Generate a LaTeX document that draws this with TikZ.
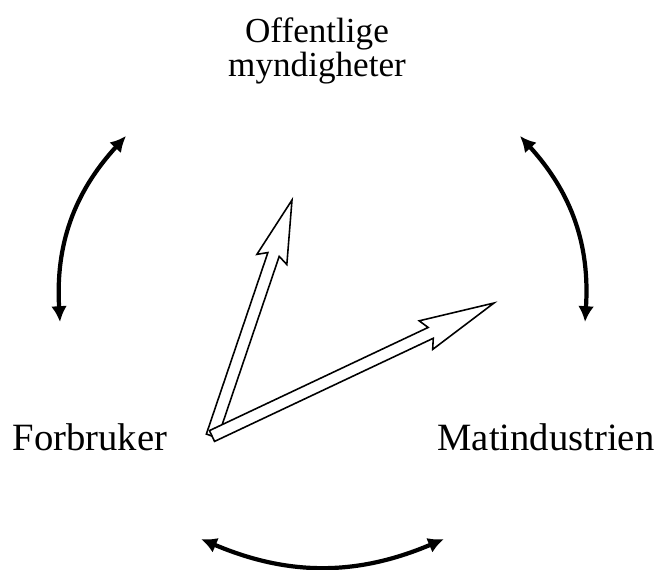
\documentclass[tikz,border=0pt]{standalone}
\usepackage{fontspec}
\setmainfont{Liberation Serif}
\usetikzlibrary{arrows.meta,calc}

\tikzset{
  lbl/.style={font=\fontsize{20}{19}\selectfont, inner sep=0pt, align=center},
  biglbl/.style={lbl, font=\fontsize{22}{24}\selectfont},
  swap/.style={line width=2.4pt, {Latex[length=9pt,width=9pt]}-{Latex[length=9pt,width=9pt]}},
  hollow/.style={draw=black, fill=white, line width=0.9pt, line join=miter}
}
% hollow arrow: #1 tail, #2 tip, #3 head length
\newcommand\hollowarrow[3]{%
  \draw[hollow] ($(#1)!3.4pt!90:(#2)$)
    -- ($($(#2)!#3!(#1)$)!3.4pt!90:(#2)$)
    -- ($($(#2)!#3+3pt!(#1)$)!9pt!90:(#2)$)
    -- (#2)
    -- ($($(#2)!#3+3pt!(#1)$)!9pt!-90:(#2)$)
    -- ($($(#2)!#3!(#1)$)!3.4pt!-90:(#2)$)
    -- ($(#1)!3.4pt!-90:(#2)$) -- cycle;}

\begin{document}
\begin{tikzpicture}[x=0.02cm,y=-0.02cm]
\useasboundingbox (0,0) rectangle (661,569);
% ---------- actors ----------
\node[lbl] (myndig) at (317,51) {Offentlige\\myndigheter};
\node[biglbl] (forbr) at (90,437) {Forbruker};
\node[biglbl] (matind) at (546,437) {Matindustrien};
% ---------- arc ends ----------
\coordinate (lb) at (60,322);
\coordinate (lt) at (126,136);
\coordinate (rb) at (585,322);
\coordinate (rt) at (520,136);
\coordinate (bl) at (201,539);
\coordinate (br) at (444,539);
% ---------- two-way arcs ----------
\draw[swap] (lb) to[bend left=23] (lt);
\draw[swap] (rb) to[bend right=23] (rt);
\draw[swap] (bl) to[bend right=23] (br);
% ---------- hollow arrows ----------
\coordinate (tail) at (212,436);
\coordinate (tipup) at (292,200);
\coordinate (tipright) at (494,303);
\hollowarrow{tail}{tipup}{1.15cm}
\hollowarrow{tail}{tipright}{1.4cm}
\end{tikzpicture}
\end{document}
